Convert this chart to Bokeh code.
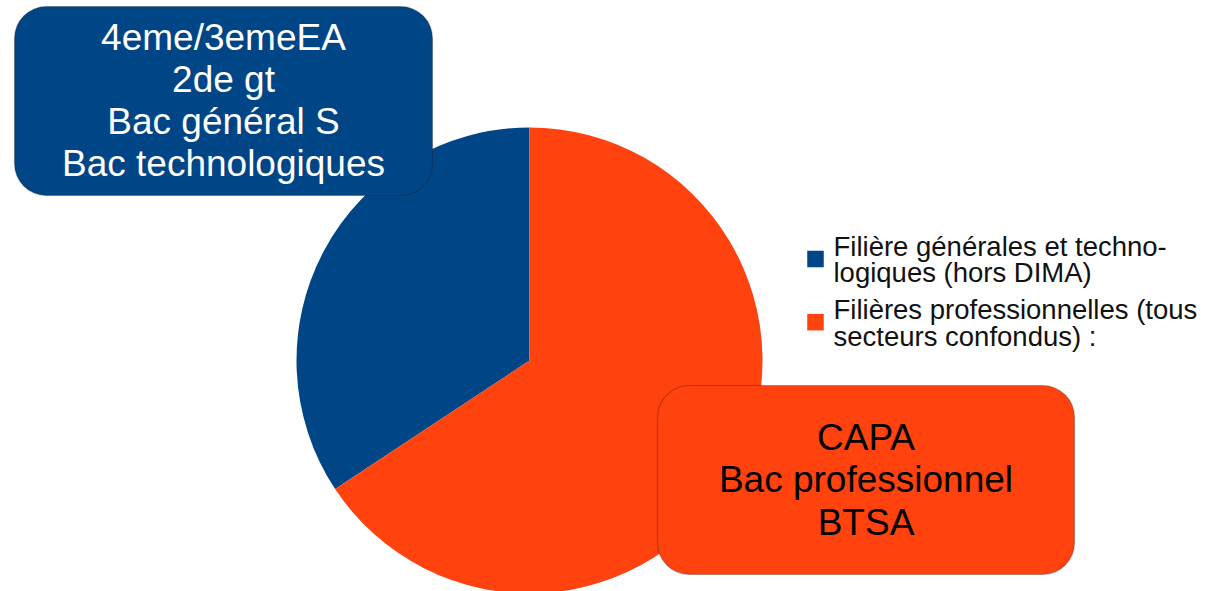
from bokeh.plotting import figure
from bokeh.models import Range1d, BoxAnnotation, ColumnDataSource
from bokeh.core.properties import value
from bokeh.embed import file_html
from bokeh.resources import INLINE
import numpy as np

# ---- data ----
categories = ["Filière générales et techno-\nlogiques (hors DIMA)",
              "Filières professionnelles (tous\nsecteurs confondus) :"]
shares = [34.3, 65.7]
colors = ["#004586", "#ff420e"]
box_labels = ["4eme/3emeEA\n2de gt\nBac général S\nBac technologiques",
              "CAPA\nBac professionnel\nBTSA"]
box_text_colors = ["#ffffff", "#000000"]

# ---- layout (pixel-like coordinates, y negative downward) ----
W, H = 1200, 591
p = figure(width=W, height=H, output_backend="svg", toolbar_location=None,
           x_range=Range1d(0, W), y_range=Range1d(-H, 0),
           min_border=0, outline_line_color=None)
p.axis.visible = False
p.grid.visible = False
p.background_fill_color = "white"
p.border_fill_color = "white"

cx, cy, r = 529, -360, 233
fr = np.array(shares) / sum(shares)
start = np.pi / 2 + 2 * np.pi * np.concatenate([[0], np.cumsum(fr)[:-1]])
end = np.pi / 2 + 2 * np.pi * np.cumsum(fr)
src = ColumnDataSource(dict(start=start, end=end, color=colors))
p.wedge(x=cx, y=cy, radius=r, start_angle="start", end_angle="end",
        direction="anticlock", fill_color="color", line_color=None, source=src)

# rounded label boxes
boxes = [(14, 432, -6, -195), (657, 1074, -385, -574)]
for (l, rr, t, b), col in zip(boxes, colors):
    p.add_layout(BoxAnnotation(left=l, right=rr, top=t, bottom=b,
                               fill_color=col, fill_alpha=1.0,
                               line_color="#1a1a1a", line_width=1.2,
                               border_radius=32, level="annotation"))

bx = [(b[0] + b[1]) / 2 for b in boxes]
p.text(x=bx, y=[-100, -479.5], text=box_labels, text_color=box_text_colors,
       text_align="center", text_baseline="middle", text_line_height=1.025,
       text_font=value("Liberation Sans"), text_font_size="37px",
       level="overlay")

# legend
lx = 815
ly = [-258.5, -321.7]
p.rect(x=[lx, lx], y=ly, width=16.5, height=16.5, fill_color=colors, line_color=None)
p.text(x=[833, 833], y=[y - 0.5 for y in ly], text=categories, text_color="#111111",
       text_align="left", text_baseline="middle", text_line_height=0.87,
       text_font=value("Liberation Sans"), text_font_size="27.5px")

open("out.html", "w").write(file_html(p, INLINE))
